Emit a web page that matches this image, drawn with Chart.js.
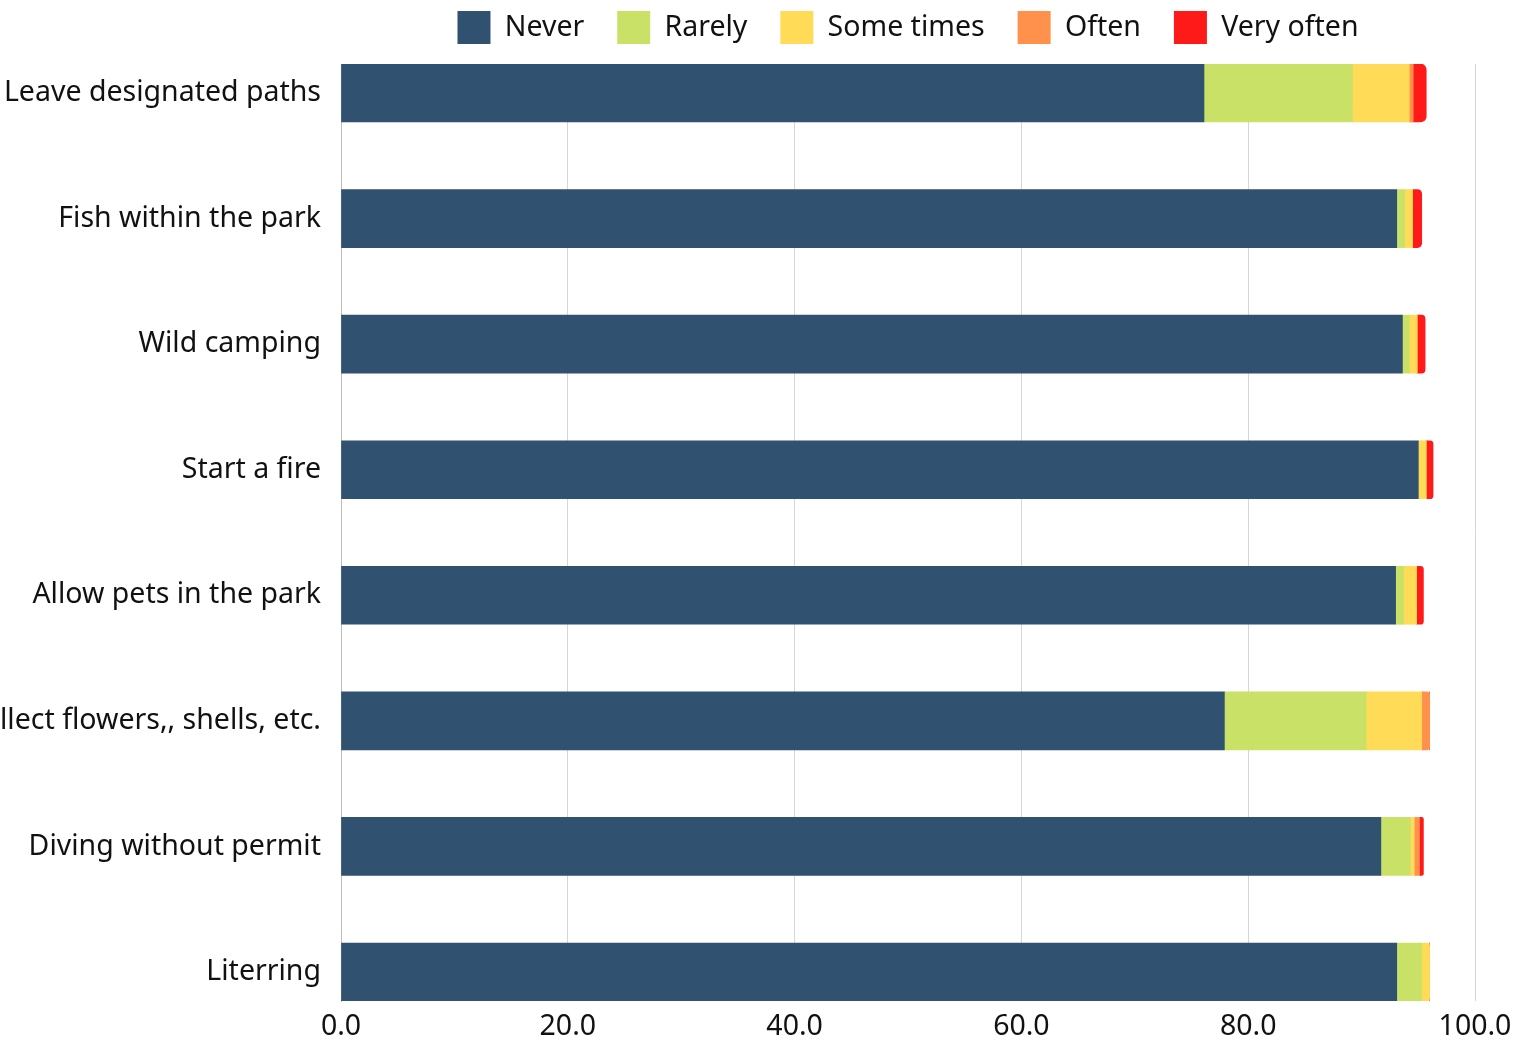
<!doctype html>
<html lang="en">

<head>
    <meta charset="utf-8">
    <title>Park rule behaviour</title>
    <style>
        html, body { margin: 0; padding: 0; background: #fff; }
        #wrap { width: 1518px; height: 1041px; }
    </style>
</head>

<body>
    <div id="wrap">
        <canvas id="myChart" width="1518" height="1041"></canvas>
    </div>

    <script src="https://cdn.jsdelivr.net/npm/chart.js@4.4.0/dist/chart.umd.min.js"></script>
    <script>
        const behaviours = [
            'Leave designated paths',
            'Fish within the park',
            'Wild camping',
            'Start a fire',
            'Allow pets in the park',
            'Collect flowers,, shells, etc.',
            'Diving without permit',
            'Literring'
        ];

        const never = [76.1, 93.1, 93.6, 95.0, 93.0, 77.9, 91.7, 93.1];
        const rarely = [13.1, 0.7, 0.6, 0.0, 0.7, 12.5, 2.6, 2.2];
        const someTimes = [5.0, 0.7, 0.7, 0.7, 1.15, 4.9, 0.35, 0.7];
        const often = [0.35, 0.0, 0.0, 0.0, 0.0, 0.7, 0.45, 0.0];
        const veryOften = [1.15, 0.8, 0.7, 0.6, 0.6, 0.0, 0.35, 0.0];

        const xTicks = [0, 20, 40, 60, 80, 100];

        const FONT = "'Noto Sans', sans-serif";
        const TEXT_SIZE = 28.5;

        // y is a linear index scale so bars can sit flush with the plot edges
        function series(label, values, color, radius) {
            return {
                label: label,
                data: values.map((v, i) => ({ x: v, y: i })),
                backgroundColor: color,
                borderRadius: radius,
                barThickness: 58,
            };
        }

        // a little extra room between legend and plot
        const legendGap = {
            id: 'legendGap',
            beforeInit(chart) {
                const fit = chart.legend.fit;
                chart.legend.fit = function () {
                    fit.bind(chart.legend)();
                    this.height += 10;
                };
            }
        };

        const data = {
            datasets: [
                series('Never', never, '#30516F', 0),
                series('Rarely', rarely, '#C9E166', 6),
                series('Some times', someTimes, '#FFDB57', 6),
                series('Often', often, '#FF914D', 6),
                series('Very often', veryOften, '#FF1A1A', 6),
            ]
        };

        const config = {
            type: 'bar',
            data: data,
            plugins: [legendGap],
            options: {
                indexAxis: 'y',
                responsive: false,
                animation: false,
                layout: {
                    // legend padding is wide for item spacing, pull it back up
                    padding: { top: -22, right: 0, left: 0, bottom: 0 }
                },
                plugins: {
                    tooltip: { enabled: false },
                    legend: {
                        position: 'top',
                        fullSize: false,
                        labels: {
                            boxWidth: 33,
                            boxHeight: 33,
                            padding: 33,
                            color: '#111',
                            font: { family: FONT, size: TEXT_SIZE }
                        }
                    }
                },
                scales: {
                    x: {
                        stacked: true,
                        min: 0,
                        max: 100,
                        afterBuildTicks: (scale) => {
                            scale.ticks = xTicks.map(v => ({ value: v }));
                        },
                        afterFit: (scale) => {
                            scale.height = 40;
                            scale.paddingRight = 43;
                        },
                        ticks: {
                            padding: 9,
                            color: '#111',
                            font: { family: FONT, size: TEXT_SIZE },
                            callback: (v) => Number(v).toFixed(1)
                        },
                        grid: {
                            color: '#d6d6d6',
                            lineWidth: 1,
                            drawTicks: false
                        },
                        border: { display: false }
                    },
                    y: {
                        type: 'linear',
                        stacked: true,
                        reverse: true,
                        offset: false,
                        min: -0.231,
                        max: behaviours.length - 1 + 0.231,
                        afterBuildTicks: (scale) => {
                            scale.ticks = behaviours.map((_, i) => ({ value: i }));
                        },
                        afterFit: (scale) => { scale.width = 341; },
                        ticks: {
                            padding: 12,
                            color: '#111',
                            font: { family: FONT, size: TEXT_SIZE },
                            callback: (v) => behaviours[v]
                        },
                        grid: { display: false },
                        border: { display: true, color: '#bdbdbd' }
                    }
                }
            }
        };

        new Chart(document.getElementById('myChart'), config);
    </script>
</body>

</html>
